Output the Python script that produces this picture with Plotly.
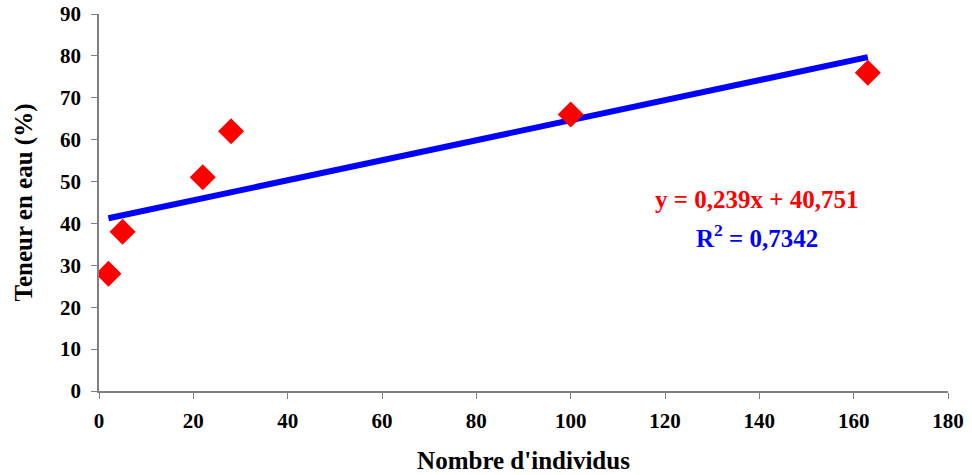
import plotly.graph_objects as go

x_vals = [2, 5, 22, 28, 100, 163]
y_vals = [28, 38, 51, 62, 66, 76]
slope = 0.239
intercept = 40.751
equation_text = "y = 0,239x + 40,751"
r2_text = "R<sup>2</sup> = 0,7342"

fit_x = [min(x_vals), max(x_vals)]
fit_y = [slope * v + intercept for v in fit_x]

font_family = "Liberation Serif, Times New Roman, serif"

fig = go.Figure()
fig.add_trace(go.Scatter(x=fit_x, y=fit_y, mode="lines",
                         line=dict(color="#0000ff", width=6), hoverinfo="skip",
                         showlegend=False))
fig.add_trace(go.Scatter(x=x_vals, y=y_vals, mode="markers",
                         marker=dict(symbol="diamond", size=20, color="#ff0000"),
                         showlegend=False))

fig.add_annotation(x=139.5, y=45.8, xref="x", yref="y", text=equation_text,
                   showarrow=False,
                   font=dict(family=font_family, size=25, color="#ff0000", weight="bold"))
fig.add_annotation(x=139.5, y=37.0, xref="x", yref="y", text=r2_text,
                   showarrow=False,
                   font=dict(family=font_family, size=25, color="#0000ff", weight="bold"))

axis_common = dict(showgrid=False, zeroline=False, showline=True, linecolor="#808080",
                   linewidth=1.5, ticks="outside", tickcolor="#808080", ticklen=6,
                   automargin=False,
                   tickfont=dict(family=font_family, size=21, color="black", weight="bold"))

fig.update_xaxes(range=[0, 180], dtick=20, tick0=0, ticklabelstandoff=4,
                 title=dict(text="Nombre d'individus",
                            font=dict(family=font_family, size=25, color="black", weight="bold"),
                            standoff=20),
                 **axis_common)
fig.update_yaxes(range=[0, 90], dtick=10, tick0=0, ticklabelstandoff=6,
                 title=dict(text="Teneur en eau (%)",
                            font=dict(family=font_family, size=25, color="black", weight="bold"),
                            standoff=20),
                 **axis_common)

fig.update_layout(width=972, height=475, margin=dict(l=99, r=24, t=14, b=84),
                  plot_bgcolor="white", paper_bgcolor="white",
                  font=dict(family=font_family))

fig.write_html("out.html")
